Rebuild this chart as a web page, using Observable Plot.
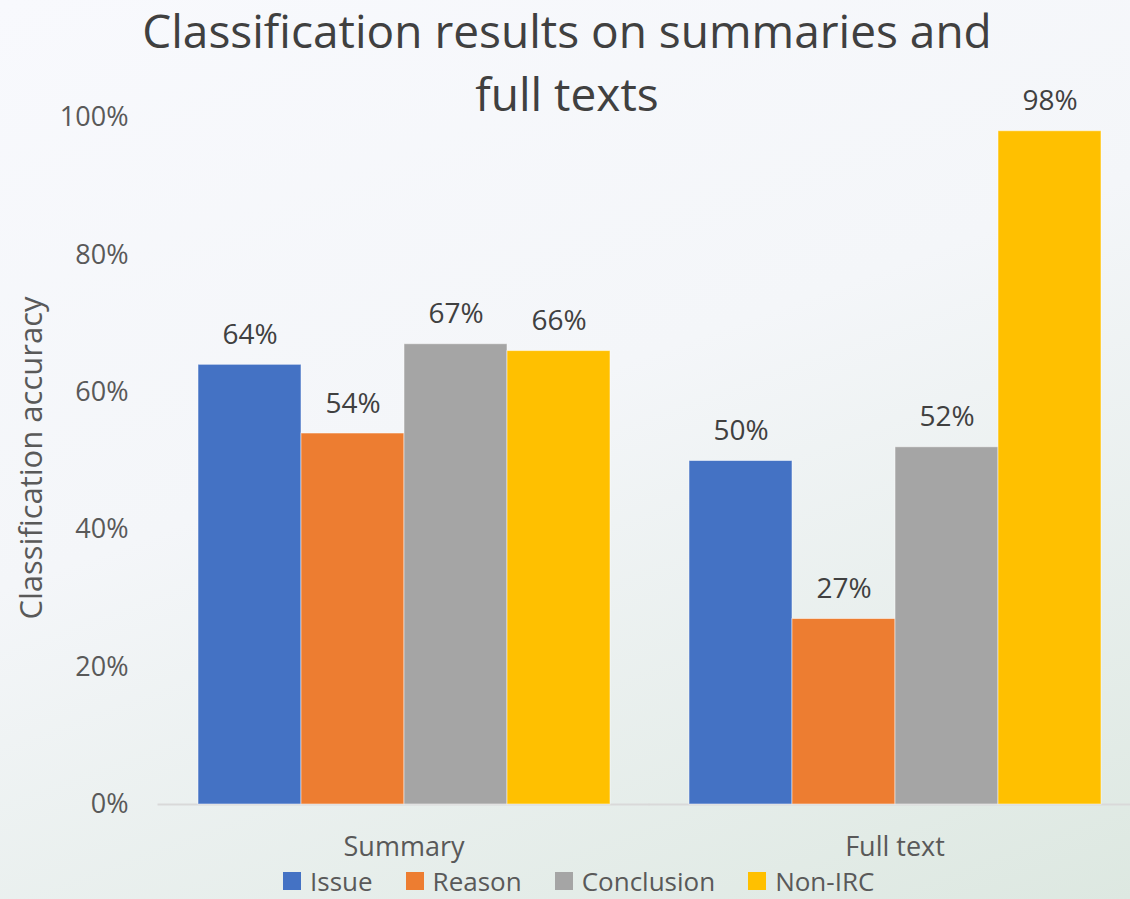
<!DOCTYPE html>
<html><head><meta charset="utf-8">
<script src="https://cdn.jsdelivr.net/npm/d3@7"></script>
<script src="https://cdn.jsdelivr.net/npm/@observablehq/plot@0.6"></script>
<style>
html,body{margin:0;padding:0;}
#wrap{position:relative;width:1130px;height:899px;overflow:hidden;background:linear-gradient(160deg,#f8f9fd 0%,#f4f6f9 45%,#dde8e1 100%);font-family:"Open Sans",sans-serif;}
#chart{position:absolute;left:0;top:0;}
#title{position:absolute;left:0;width:1134px;top:-1px;text-align:center;font-size:46px;line-height:63px;color:#404040;}
#ylabel{position:absolute;left:30px;top:458px;transform:translate(-50%,-50%) rotate(-90deg);white-space:nowrap;font-size:31px;color:#595959;}
#legend{position:absolute;left:283px;top:866px;height:29px;display:flex;align-items:center;}
.lg-swatches{font-family:"Open Sans",sans-serif !important;font-size:26px !important;color:#595959 !important;margin:0 !important;min-height:0 !important;line-height:28px !important;}
.lg-swatches > span, .lg-swatch{margin-right:33px !important;line-height:28px !important;}
.lg-swatches svg{margin-right:9px !important;}
</style>
</head><body>
<div id="wrap">
  <div id="chart"></div>
  <div id="title">Classification results on summaries and<br>full texts</div>
  <div id="ylabel">Classification accuracy</div>
  <div id="legend"></div>
</div>
<script>
const groups = ["Summary", "Full text"];
const series = ["Issue", "Reason", "Conclusion", "Non-IRC"];
const summaryValues = [0.64, 0.54, 0.67, 0.66];
const fullTextValues = [0.50, 0.27, 0.52, 0.98];
const yTicks = [0, 0.2, 0.4, 0.6, 0.8, 1.0];
const colors = ["#4472C4", "#ED7D31", "#A5A5A5", "#FFC000"];

const data = [
  ...series.map((s, i) => ({group: groups[0], series: s, value: summaryValues[i]})),
  ...series.map((s, i) => ({group: groups[1], series: s, value: fullTextValues[i]}))
];
const pct = d3.format(".0%");

const chart = Plot.plot({
  width: 1130, height: 899,
  marginTop: 117, marginBottom: 95, marginLeft: 158, marginRight: 0,
  style: {background: "transparent", fontFamily: "Open Sans", fontSize: "27px", color: "#595959", overflow: "visible"},
  fx: {domain: groups, range: [158, 1140], paddingInner: 0.159, paddingOuter: 0.0795, axis: "bottom", label: null, tickSize: 0, tickPadding: 32},
  x: {domain: series, padding: 0, axis: null},
  y: {domain: [0, 1], ticks: yTicks, tickFormat: pct, tickSize: 0, tickPadding: 69, label: null},
  color: {domain: series, range: colors},
  marks: [
    Plot.ruleY([0], {stroke: "#d9d9d9", strokeWidth: 2, insetLeft: -39.5, insetRight: -39.5}),
    Plot.barY(data, {fx: "group", x: "series", y: "value", fill: "series", stroke: "#ffffff", strokeOpacity: 0.5, strokeWidth: 1}),
    Plot.text(data, {fx: "group", x: "series", y: "value", text: d => pct(d.value), lineAnchor: "bottom", dy: -21, fontSize: 28, fill: "#404040"})
  ]
});
document.getElementById("chart").appendChild(chart);
const leg = chart.legend("color", {legend: "swatches", swatchSize: 18, className: "lg"});
document.getElementById("legend").appendChild(leg);
</script>
</body></html>
